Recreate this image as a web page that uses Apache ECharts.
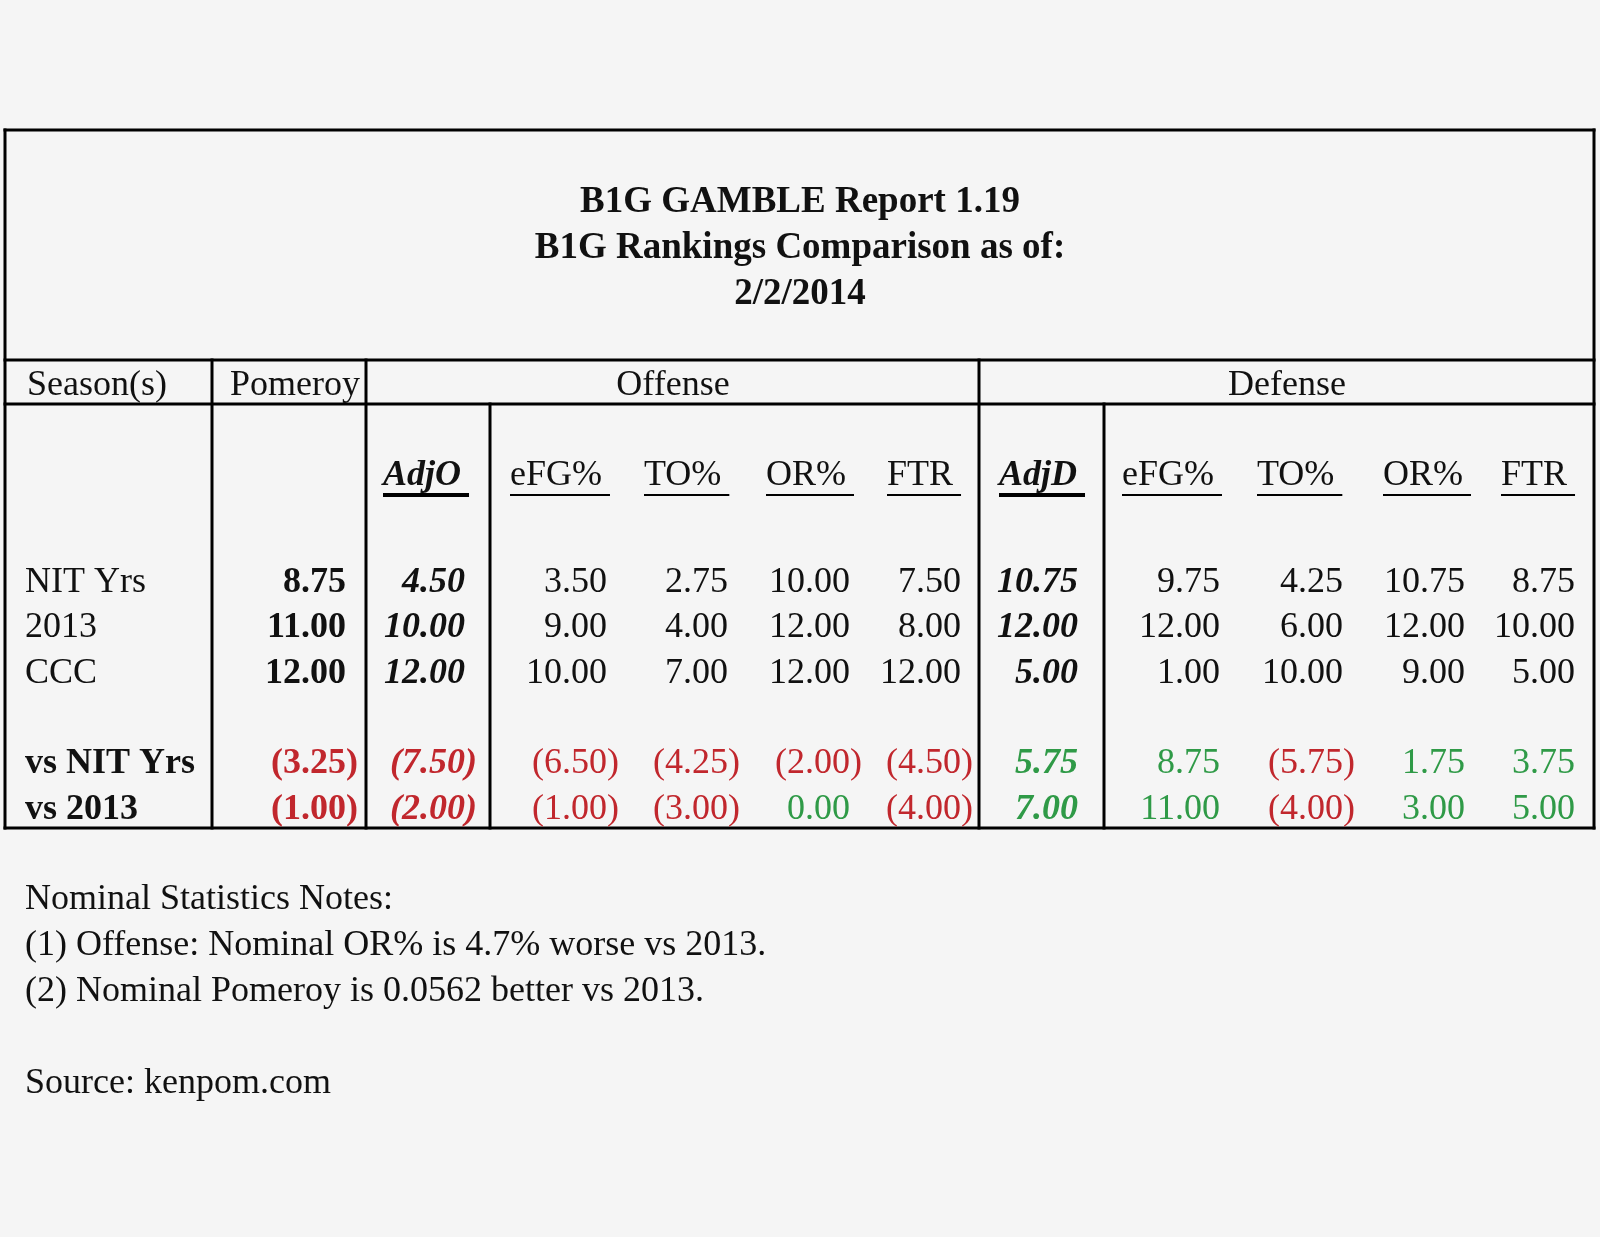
<!DOCTYPE html>
<html>
<head>
<meta charset="utf-8">
<script src="https://cdn.jsdelivr.net/npm/echarts@6/dist/echarts.min.js"></script>
<style>
  html, body { margin: 0; padding: 0; background: #f5f5f5; }
  #chart { width: 1600px; height: 1237px; }
</style>
</head>
<body>
<div id="chart"></div>
<script>
// ---- data ----
let reportTitle = ['B1G GAMBLE Report 1.19', 'B1G Rankings Comparison as of:', '2/2/2014'];
let groups = ['Offense', 'Defense'];
let statCols = ['AdjO', 'eFG%', 'TO%', 'OR%', 'FTR', 'AdjD', 'eFG%', 'TO%', 'OR%', 'FTR'];
let seasons = ['NIT Yrs', '2013', 'CCC'];
let compareRows = ['vs NIT Yrs', 'vs 2013'];
// Pomeroy, AdjO, eFG%, TO%, OR%, FTR, AdjD, eFG%, TO%, OR%, FTR
let nitYrs   = [8.75, 4.50, 3.50, 2.75, 10.00, 7.50, 10.75, 9.75, 4.25, 10.75, 8.75];
let y2013    = [11.00, 10.00, 9.00, 4.00, 12.00, 8.00, 12.00, 12.00, 6.00, 12.00, 10.00];
let ccc      = [12.00, 12.00, 10.00, 7.00, 12.00, 12.00, 5.00, 1.00, 10.00, 9.00, 5.00];
let vsNitYrs = [-3.25, -7.50, -6.50, -4.25, -2.00, -4.50, 5.75, 8.75, -5.75, 1.75, 3.75];
let vs2013   = [-1.00, -2.00, -1.00, -3.00, 0.00, -4.00, 7.00, 11.00, -4.00, 3.00, 5.00];
let notes = [
    'Nominal Statistics Notes:',
    '(1) Offense: Nominal OR% is 4.7% worse vs 2013.',
    '(2) Nominal Pomeroy is 0.0562 better vs 2013.',
    '',
    'Source: kenpom.com'
];

// ---- layout (page pixels, mapped through the value axes below) ----
const FAMILY = "'Liberation Serif', 'Times New Roman', serif";
const FS = 36;
const INK = '#111';
const RED = '#c1272d';
const GREEN = '#2f9a47';
const box = {l: 5, t: 130, r: 1594, b: 828};
const headLines = [360, 404];
const headY = 386, subY = 476, underY = 495;
const seasonY = [583, 628, 674];
const compareY = [764, 810];
const labelX = 25;
// right edge of a number in parentheses, per value column
const parenRight = [358, 477, 619, 740, 862, 973, 1090, 1232, 1355, 1477, 1587];
// left edge of each underlined stat header
const statLeft = [383, 510, 644, 766, 887, 999, 1122, 1257, 1383, 1501];
const groupCenter = [673, 1287];

let ctx = document.createElement('canvas').getContext('2d');
function textWidth(text, font) {
    ctx.font = font;
    return ctx.measureText(text).width;
}
function font(style, weight, size) {
    return style + ' ' + weight + ' ' + (size || FS) + 'px ' + FAMILY;
}
function colFont(i) {
    if (i === 0) return font('normal', 'bold');
    if (i === 1 || i === 6) return font('italic', 'bold');
    return font('normal', 'normal');
}

// ---- build cells ----
let cells = [];
function addCell(x, y, text, f, fill, align, under) {
    cells.push({x: x, y: y, text: text, font: f, fill: fill, align: align, under: under || 0});
}
addCell(27, headY, 'Season(s)', font('normal', 'normal'), INK, 'left');
addCell(230, headY, 'Pomeroy', font('normal', 'normal'), INK, 'left');
groups.forEach((g, i) => addCell(groupCenter[i], headY, g, font('normal', 'normal'), INK, 'center'));
statCols.forEach((s, i) => {
    let adj = (i === 0 || i === 5);
    addCell(statLeft[i], subY, s, adj ? font('italic', 'bold') : font('normal', 'normal'), INK, 'left', adj ? 4 : 2);
});

function addValue(col, y, v, colored) {
    let f = colFont(col);
    let text = v < 0 ? '(' + (-v).toFixed(2) + ')' : v.toFixed(2);
    let x = v < 0 ? parenRight[col] : parenRight[col] - textWidth(')', f);
    let fill = colored ? (v < 0 ? RED : GREEN) : INK;
    addCell(x, y, text, f, fill, 'right');
}
[nitYrs, y2013, ccc].forEach((row, r) => {
    addCell(labelX, seasonY[r], seasons[r], font('normal', 'normal'), INK, 'left');
    row.forEach((v, c) => addValue(c, seasonY[r], v, false));
});
[vsNitYrs, vs2013].forEach((row, r) => {
    addCell(labelX, compareY[r], compareRows[r], font('normal', 'bold'), INK, 'left');
    row.forEach((v, c) => addValue(c, compareY[r], v, true));
});

// ---- table rules ----
let rules = [
    [box.l, box.t, box.r, box.t],
    [box.l, box.b, box.r, box.b],
    [box.l, box.t, box.l, box.b],
    [box.r, box.t, box.r, box.b],
    [box.l, headLines[0], box.r, headLines[0]],
    [box.l, headLines[1], box.r, headLines[1]],
    [212, headLines[0], 212, box.b],
    [366, headLines[0], 366, box.b],
    [979, headLines[0], 979, box.b],
    [490, headLines[1], 490, box.b],
    [1104, headLines[1], 1104, box.b]
];

let myChart = echarts.init(document.getElementById('chart'));
myChart.setOption({
    backgroundColor: '#f5f5f5',
    animation: false,
    title: [{
        text: reportTitle.join('\n'),
        left: 'center',
        top: 179,
        padding: 0,
        textStyle: {fontFamily: FAMILY, fontSize: 37, fontWeight: 'bold', lineHeight: 46, color: INK}
    }, {
        text: notes.join('\n'),
        left: labelX,
        top: 877,
        padding: 0,
        textStyle: {fontFamily: FAMILY, fontSize: FS, fontWeight: 'normal', lineHeight: 46, color: INK}
    }],
    grid: {left: 0, right: 0, top: 0, bottom: 0},
    xAxis: {type: 'value', min: 0, max: 1600, show: false},
    yAxis: {type: 'value', min: 0, max: 1237, inverse: true, show: false},
    series: [{
        type: 'custom',
        silent: true,
        clip: false,
        data: rules,
        renderItem: function (params, api) {
            let p1 = api.coord([api.value(0), api.value(1)]);
            let p2 = api.coord([api.value(2), api.value(3)]);
            return {
                type: 'line',
                shape: {x1: p1[0], y1: p1[1], x2: p2[0], y2: p2[1]},
                style: {stroke: '#000', lineWidth: 3, lineCap: 'square'}
            };
        }
    }, {
        type: 'custom',
        silent: true,
        clip: false,
        data: cells.map(c => [c.x, c.y]),
        renderItem: function (params, api) {
            let c = cells[params.dataIndex];
            let p = api.coord([api.value(0), api.value(1)]);
            let children = [{
                type: 'text',
                style: {x: p[0], y: p[1], text: c.text, font: c.font, fill: c.fill, align: c.align, verticalAlign: 'middle'}
            }];
            if (c.under) {
                let w = textWidth(c.text, c.font) + 8;
                let u = api.coord([0, underY]);
                children.push({
                    type: 'rect',
                    shape: {x: p[0], y: u[1] - c.under / 2, width: w, height: c.under},
                    style: {fill: '#000'}
                });
            }
            return {type: 'group', children: children};
        }
    }]
});
</script>
</body>
</html>
